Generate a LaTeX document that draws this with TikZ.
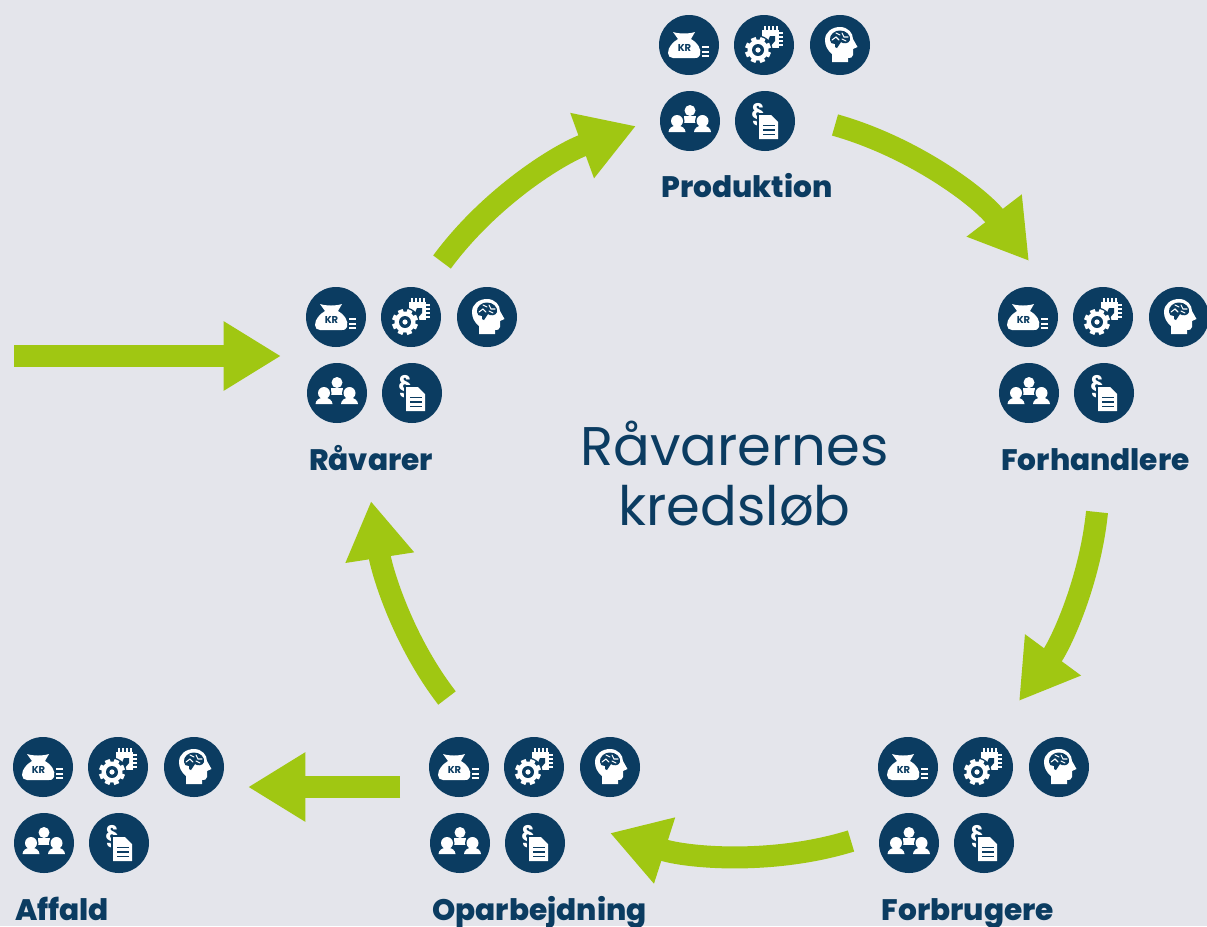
\documentclass[tikz,border=0pt]{standalone}
\usepackage{fontspec}
\setmainfont{Poppins}
\newfontfamily\labfont{Poppins ExtraBold}
\usetikzlibrary{arrows.meta,bending}
\definecolor{bgc}{HTML}{E4E5EB}
\definecolor{navy}{HTML}{0B3C61}
\definecolor{lime}{HTML}{A0C712}
\tikzset{
  x=0.75pt,y=-0.75pt,
  disc/.style={circle,fill=navy,draw=none,minimum size=45pt,inner sep=0pt},
  grouplabel/.style={font=\labfont\fontsize{22.2}{24}\selectfont,text=navy,inner sep=0pt,anchor=base},
  title/.style={font=\fontsize{40.8}{46}\selectfont,text=navy,align=center,inner sep=0pt},
  flow/.style={draw=lime,line width=16.5pt,-{Triangle[length=43pt,width=49pt,fill=lime,quick]}},
  ink/.style={fill=white,draw=none},
  icons/.pic={
    % money bag
    \node[disc] at (0,0) {};
    \fill[ink] (-16,-13) .. controls (-10,-11) and (0,-11) .. (6,-13) -- (2,-6) .. controls (8,-3) and (13,4) .. (11,10) .. controls (10,13) and (8,13) .. (6,13) -- (-16,13) .. controls (-19,13) and (-21,11) .. (-21,8) .. controls (-21,2) and (-16,-3) .. (-11,-6) -- cycle;
    \node[text=navy,font=\bfseries\fontsize{7.5}{8}\selectfont,inner sep=0pt] at (-4.5,3) {KR};
    \foreach \yy in {1,5.5,10} \fill[ink] (13,\yy) rectangle (20,\yy+2.2);
    % gears
    \begin{scope}[shift={(75,0)}]
      \node[disc] at (0,0) {};
      \fill[ink] (-2,-15) rectangle (15,3);
      \foreach \k in {0,4,8,12} \fill[ink] (\k,-19) rectangle (\k+2,-15);
      \foreach \k in {-13,-9,-5,-1} \fill[ink] (15,\k) rectangle (19,\k+2);
      \fill[navy] (-6,5) circle (14.5);
      \fill[navy] (6,-9) -- (11,-9) -- (11,-4) -- (5,3) -- (3,-2) -- cycle;
      \foreach \a in {0,45,...,135} \fill[ink,rotate around={\a+22:(-6,5)}] (-8.6,-8) rectangle (-3.4,18);
      \fill[ink] (-6,5) circle (10.5);
      \fill[navy] (-6,5) circle (6);
      \fill[ink] (-6,5) circle (2.6);
    \end{scope}
    % head
    \begin{scope}[shift={(151,0)}]
      \node[disc] at (0,0) {};
      \fill[ink] (-8,17) -- (-8,9) .. controls (-13,5) and (-15,0) .. (-15,-5) .. controls (-15,-13) and (-8,-18) .. (0,-18) .. controls (8,-18) and (13,-12) .. (13,-6) -- (17.5,2) -- (13,4) -- (13,10) .. controls (13,13) and (10,13) .. (8,13) -- (8,17) -- cycle;
      \fill[navy] (-10,-5) .. controls (-11,-10) and (-5,-15) .. (0,-14.5) .. controls (6,-14.5) and (11,-10) .. (10,-5) .. controls (9,-1) and (3,-1) .. (1,-3) -- (-3,3) -- (-5,2) -- (-5,-1) .. controls (-8,-1) and (-10,-2) .. (-10,-5) -- cycle;
      \draw[white,line width=0.8pt,line cap=round] (-8,-5) -- (-4,-8) -- (-1,-5) (-4,-12) -- (0,-10) (2,-12) -- (4,-8) -- (8,-8) (2,-6) -- (6,-4);
    \end{scope}
    % people
    \begin{scope}[shift={(1,76)}]
      \node[disc] at (0,0) {};
      \fill[ink] (0,-10.5) circle (5.5);
      \fill[ink] (-6,-5) rectangle (6,2);
      \foreach \px in {-13,12.5} {
        \fill[navy] (\px,0) circle (7.5);
        \fill[navy] (\px-10,12) -- (\px-10,5) -- (\px+10,5) -- (\px+10,12) -- cycle;
      }
      \foreach \px in {-13,12.5} {
        \fill[ink] (\px,0) circle (6);
        \fill[ink] (\px-8.5,11) .. controls (\px-8.5,7) and (\px-4,5) .. (\px-2.5,5) -- (\px+2.5,5) .. controls (\px+4,5) and (\px+8.5,7) .. (\px+8.5,11) -- cycle;
      }
    \end{scope}
    % paragraph document
    \begin{scope}[shift={(76,76)}]
      \node[disc] at (0,0) {};
      \node[text=white,font=\bfseries\fontsize{18}{18}\selectfont,inner sep=0pt,xscale=.9] at (-7,-6.5) {§};
      \fill[navy] (-8,-8) -- (7,-8) -- (15,0) -- (15,20) -- (-8,20) -- cycle;
      \fill[ink] (-6,-6) -- (6,-6) -- (13,1) -- (13,18) -- (-6,18) -- cycle;
      \foreach \yy in {3.5,8,12.5} \fill[navy] (-2,\yy) rectangle (10,\yy+1.8);
    \end{scope}
  }
}
\begin{document}
\begin{tikzpicture}
\useasboundingbox[fill=bgc] (0,0) rectangle (1207,926);
\pic (prod) at (689,45) {icons};
\pic (raw) at (336,317) {icons};
\pic (deal) at (1028,317) {icons};
\pic (cons) at (908,767) {icons};
\pic (proc) at (459,767) {icons};
\pic (waste) at (43,767) {icons};
\node[grouplabel] (lprod) at (747,197) {Produktion};
\node[grouplabel] (lraw) at (371,470) {Råvarer};
\node[grouplabel] (ldeal) at (1095.5,470) {Forhandlere};
\node[grouplabel] (lcons) at (968,920) {Forbrugere};
\node[grouplabel] (lproc) at (539.5,920) {Oparbejdning};
\node[grouplabel] (lwaste) at (62,920) {Affald};
\node[title] (center) at (734.5,474) {Råvarernes\\[-1pt]kredsløb};
\coordinate (a1s) at (442,262); \coordinate (a1e) at (636,126);
\coordinate (a2s) at (835,125); \coordinate (a2e) at (1029,261);
\coordinate (a3s) at (1097,512); \coordinate (a3e) at (1019,701);
\coordinate (a4s) at (851,841); \coordinate (a4e) at (610,833);
\coordinate (a5s) at (447,698); \coordinate (a5e) at (371,501);
\coordinate (a6s) at (14,356); \coordinate (a6e) at (281,356);
\coordinate (a7s) at (400,787); \coordinate (a7e) at (248,787);
\draw[flow] (a1s) .. controls (490,197) and (559,154) .. (a1e);
\draw[flow] (a2s) .. controls (913,147) and (980,197) .. (a2e);
\draw[flow] (a3s) .. controls (1090,581) and (1061,644) .. (a3e);
\draw[flow] (a4s) .. controls (773,865) and (688,858) .. (a4e);
\draw[flow] (a5s) .. controls (403,641) and (382,572) .. (a5e);
\draw[flow] (a6s) -- (a6e);
\draw[flow] (a7s) -- (a7e);
\end{tikzpicture}
\end{document}
